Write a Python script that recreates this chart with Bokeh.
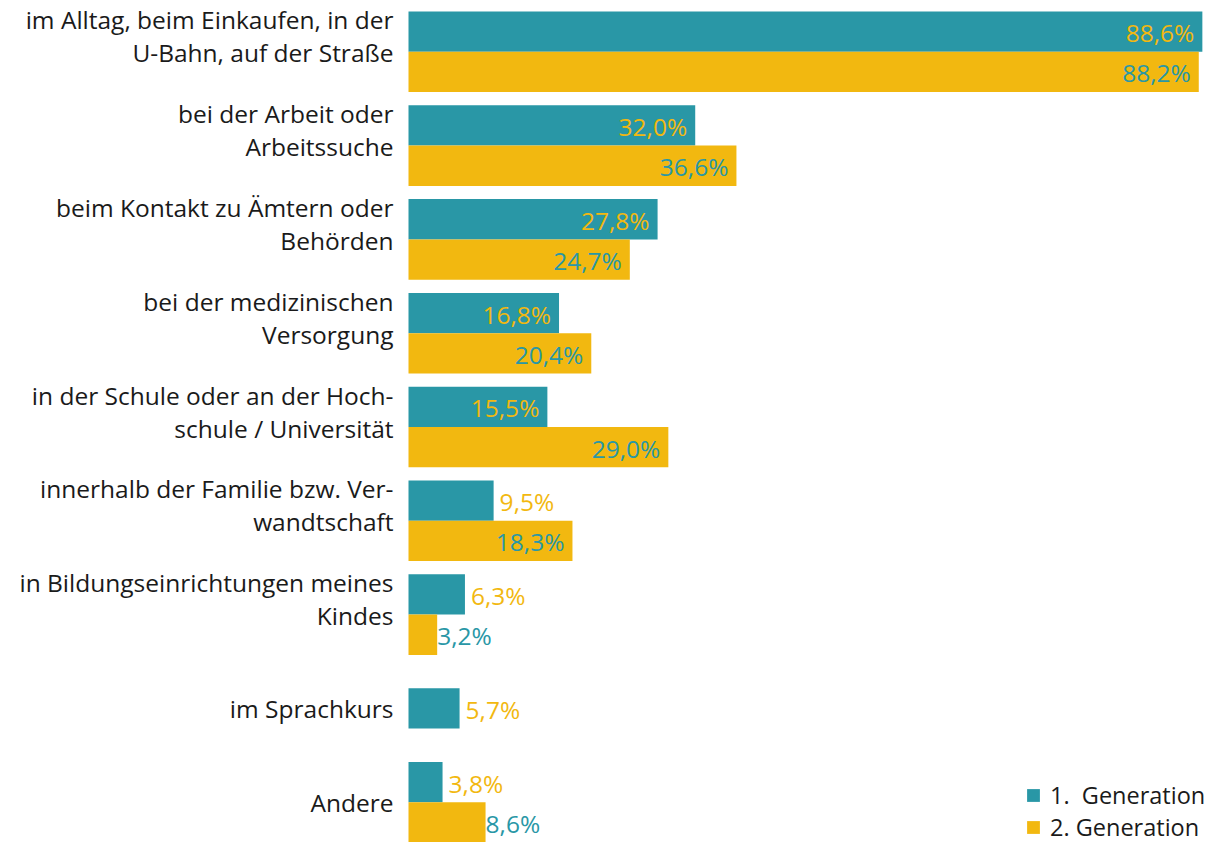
from bokeh.plotting import figure
from bokeh.models import ColumnDataSource, Range1d, Legend, LegendItem
from bokeh.core.properties import value
from bokeh.embed import file_html
from bokeh.resources import INLINE

categories = [
    "im Alltag, beim Einkaufen, in der\nU-Bahn, auf der Straße",
    "bei der Arbeit oder\nArbeitssuche",
    "beim Kontakt zu Ämtern oder\nBehörden",
    "bei der medizinischen\nVersorgung",
    "in der Schule oder an der Hoch-\nschule / Universität",
    "innerhalb der Familie bzw. Ver-\nwandtschaft",
    "in Bildungseinrichtungen meines\nKindes",
    "im Sprachkurs",
    "Andere",
]
gen1 = [88.6, 32.0, 27.8, 16.8, 15.5, 9.5, 6.3, 5.7, 3.8]
gen2 = [88.2, 36.6, 24.7, 20.4, 29.0, 18.3, 3.2, None, 8.6]
series_names = ["1.  Generation", "2. Generation"]

TEAL = "#2997a6"
YELLOW = "#f2b810"
TEXT = "#1a1a1a"
FONT = "Open Sans"
FS = "24.5px"
LFS = "23.5px"

W, H = 1207, 842
PX_PER_PCT = 8.96
ZERO_PX = 408
BAR_PX = 40.3
PITCH = 93.8
TOP_PX = 11 + BAR_PX  # center of first group
BAR_H = BAR_PX / PITCH

x_start = -ZERO_PX / PX_PER_PCT
x_end = (W - ZERO_PX) / PX_PER_PCT
y_top = -TOP_PX / PITCH
y_bottom = (H - TOP_PX) / PITCH

p = figure(width=W, height=H, output_backend="svg", toolbar_location=None,
           x_range=Range1d(x_start, x_end), y_range=Range1d(y_bottom, y_top),
           min_border=0, outline_line_color=None)
p.axis.visible = False
p.grid.visible = False
p.background_fill_color = "white"

# bars
y1, v1, y2, v2 = [], [], [], []
for i, (a, b) in enumerate(zip(gen1, gen2)):
    if b is None:
        y1.append(i); v1.append(a)
    else:
        y1.append(i - BAR_H / 2); v1.append(a)
        y2.append(i + BAR_H / 2); v2.append(b)

s1 = ColumnDataSource(dict(y=y1, v=v1))
s2 = ColumnDataSource(dict(y=y2, v=v2))
r1 = p.hbar(y="y", left=0, right="v", height=BAR_H, source=s1,
            fill_color=TEAL, line_color=None)
r2 = p.hbar(y="y", left=0, right="v", height=BAR_H, source=s2,
            fill_color=YELLOW, line_color=None)

THRESH = 12

def fmt(v):
    return f"{v:.1f}".replace(".", ",") + "%"

def add_value_labels(ys, vs, label_color, out_offset):
    ins = dict(x=[], y=[], t=[])
    out = dict(x=[], y=[], t=[])
    for y, v in zip(ys, vs):
        d = ins if v >= THRESH else out
        d["x"].append(v); d["y"].append(y); d["t"].append(fmt(v))
    p.text(x="x", y="y", text="t", source=ColumnDataSource(ins),
           text_align="right", text_baseline="middle", x_offset=-8, y_offset=1,
           text_color=label_color, text_font=value(FONT), text_font_size=FS)
    p.text(x="x", y="y", text="t", source=ColumnDataSource(out),
           text_align="left", text_baseline="middle", x_offset=out_offset, y_offset=1,
           text_color=label_color, text_font=value(FONT), text_font_size=FS)

add_value_labels(y1, v1, YELLOW, 6)
add_value_labels(y2, v2, TEAL, 0)

# category labels
cl = dict(x=[], y=[], t=[], off=[])
for i, c in enumerate(categories):
    lines = c.split("\n")
    offs = [-32, 1] if len(lines) == 2 else [0]
    for ln, o in zip(lines, offs):
        cl["x"].append(0); cl["y"].append(i); cl["t"].append(ln); cl["off"].append(o)
p.text(x="x", y="y", text="t", y_offset="off", source=ColumnDataSource(cl),
       text_align="right", text_baseline="middle", x_offset=-15,
       text_color=TEXT, text_font=value(FONT), text_font_size=FS)

legend = Legend(items=[LegendItem(label=series_names[0], renderers=[r1]),
                       LegendItem(label=series_names[1], renderers=[r2])],
                location=(1025, -1), orientation="vertical",
                glyph_width=16, glyph_height=16, label_standoff=9,
                padding=0, margin=0, spacing=0,
                border_line_color=None, background_fill_alpha=0,
                label_text_font=FONT, label_text_font_size=LFS,
                label_text_color=TEXT)
p.add_layout(legend)

open("out.html", "w").write(file_html(p, INLINE))
